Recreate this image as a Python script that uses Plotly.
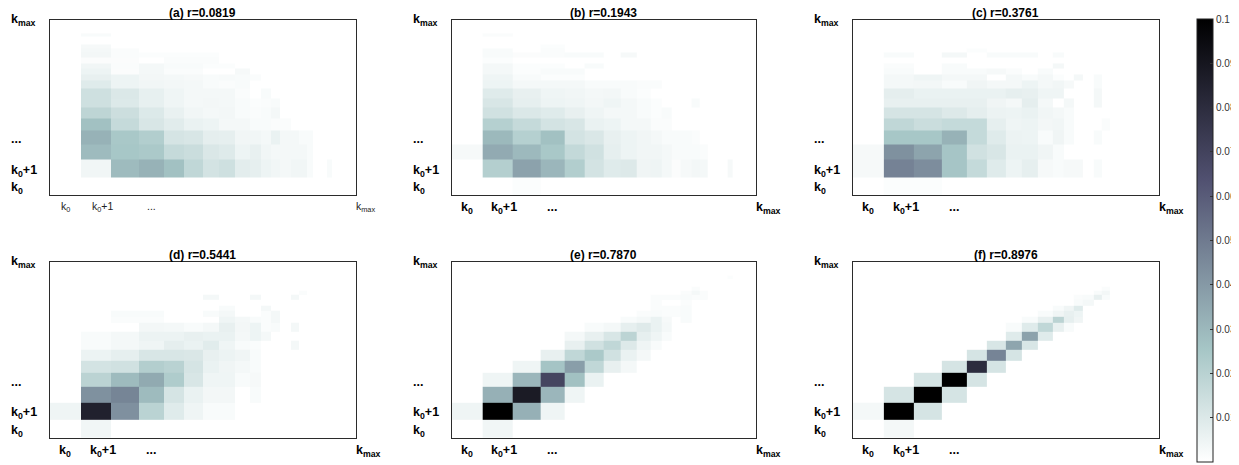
import numpy as np
import plotly.graph_objects as go

# ---------------- data ----------------
k_min, k_max = 1, 1000
# degree bin edges (shared by x and y)
bin_edges = [1, 2, 4, 7.5, 13, 20.5, 31.5, 46, 66, 92, 118, 148, 182, 231, 279, 331, 380, 431, 478, 526, 588]

panel_labels = ["(a)", "(b)", "(c)", "(d)", "(e)", "(f)"]
r_values = ["0.0819", "0.1943", "0.3761", "0.5441", "0.7870", "0.8976"]
tick_labels = ["k<sub>0</sub>", "k<sub>0</sub>+1", "...", "k<sub>max</sub>"]
cbar_ticks = [0, 0.01, 0.02, 0.03, 0.04, 0.05, 0.06, 0.07, 0.08, 0.09, 0.1]

# rows: bottom (k0) -> top ; columns: left (k0) -> right
heat_a = [
    [0, 0, 0, 0, 0, 0, 0, 0, 0, 0, 0, 0, 0, 0, 0, 0, 0, 0, 0, 0],
    [0, .004, .029, .032, .027, .018, .0125, .014, .008, .007, .005, .004, .003, .004, .004, .002, 0, 0, 0, .002],
    [0, .029, .025, .024, .0165, .015, .0105, .0095, .005, .0065, .004, .003, .003, .003, .003, .002, 0, 0, 0, 0],
    [0, .032, .0245, .022, .012, .011, .0075, .007, .004, .004, .003, .006, .003, .003, .002, .002, 0, 0, 0, 0],
    [0, .027, .0165, .011, .0085, .006, .005, .003, .003, .002, .002, .0015, .0015, 0, 0, 0, 0, 0, 0, 0],
    [0, .0185, .0145, .01, .0063, .004, .003, .0035, .002, .0015, .002, .003, 0, 0, 0, 0, 0, 0, 0, 0],
    [0, .014, .01, .0068, .0045, .003, .0035, .003, .002, .001, .0015, .002, 0, 0, 0, 0, 0, 0, 0, 0],
    [0, .014, .0103, .0068, .0045, .003, .003, .003, .0015, 0, .002, 0, 0, 0, 0, 0, 0, 0, 0, 0],
    [0, .009, .005, .004, .0035, .003, .002, .0015, .002, 0, 0, 0, 0, 0, 0, 0, 0, 0, 0, 0],
    [0, .0065, .005, .0035, .003, .0025, .002, .0022, .002, .0015, 0, 0, 0, 0, 0, 0, 0, 0, 0, 0],
    [0, .005, .0012, .003, .0015, .0015, 0, 0, .0025, 0, 0, 0, 0, 0, 0, 0, 0, 0, 0, 0],
    [0, .004, .0015, .003, .002, .002, .001, .001, 0, 0, 0, 0, 0, 0, 0, 0, 0, 0, 0, 0],
    [0, .0012, .0012, 0, .0015, .0015, .0015, 0, 0, 0, 0, 0, 0, 0, 0, 0, 0, 0, 0, 0],
    [0, .0035, .0015, .001, .001, .001, .001, 0, 0, 0, 0, 0, 0, 0, 0, 0, 0, 0, 0, 0],
    [0, .003, .0015, 0, 0, 0, 0, 0, 0, 0, 0, 0, 0, 0, 0, 0, 0, 0, 0, 0],
    [0, .0025, 0, 0, 0, 0, 0, 0, 0, 0, 0, 0, 0, 0, 0, 0, 0, 0, 0, 0],
    [0, 0, 0, 0, 0, 0, 0, 0, 0, 0, 0, 0, 0, 0, 0, 0, 0, 0, 0, 0],
    [0, 0, 0, 0, 0, 0, 0, 0, 0, 0, 0, 0, 0, 0, 0, 0, 0, 0, 0, 0],
    [0, 0, 0, 0, 0, 0, 0, 0, 0, 0, 0, 0, 0, 0, 0, 0, 0, 0, 0, 0],
    [0, .002, 0, 0, 0, 0, 0, 0, 0, 0, 0, 0, 0, 0, 0, 0, 0, 0, 0, 0],
]

heat_b = [
    [0, 0, .001, 0, 0, 0, 0, 0, 0, 0, 0, 0, 0, 0, 0, 0, 0, 0, 0, 0],
    [0, .0215, .037, .0305, .022, .0125, .009, .0097, .0043, .0048, .003, .0012, .0025, .0035, .003, 0, 0, 0, 0, .0025],
    [.0025, .0345, .0295, .0245, .017, .0135, .007, .005, .004, .004, .003, .002, .002, .002, .0015, 0, 0, 0, 0, 0],
    [0, .0297, .021, .027, .0125, .0105, .0065, .005, .004, .003, .002, .002, .002, .0015, 0, 0, 0, 0, 0, 0],
    [0, .021, .0165, .0125, .011, .006, .005, .003, .003, .0015, .0015, 0, 0, 0, 0, 0, 0, 0, 0, 0],
    [0, .0135, .0103, .009, .0065, .0045, .003, .003, .002, .001, .002, 0, 0, 0, 0, 0, 0, 0, 0, 0],
    [0, .011, .007, .005, .0045, .0035, .0045, .003, .002, .001, 0, 0, 0, .002, 0, 0, 0, 0, 0, 0],
    [0, .009, .0065, .0045, .004, .003, .0035, .002, .001, 0, 0, 0, 0, 0, 0, 0, 0, 0, 0, 0],
    [0, .005, .003, .003, .003, .002, .002, .002, .0015, .0015, 0, 0, 0, 0, 0, 0, 0, 0, 0, 0],
    [0, .0045, .002, .001, .001, 0, 0, 0, 0, 0, 0, 0, 0, 0, 0, 0, 0, 0, 0, 0],
    [0, .003, .001, .002, .002, 0, 0, 0, 0, 0, 0, 0, 0, 0, 0, 0, 0, 0, 0, 0],
    [0, .003, .001, .001, 0, .002, 0, 0, 0, 0, 0, 0, 0, 0, 0, 0, 0, 0, 0, 0],
    [0, .001, 0, 0, 0, 0, 0, 0, 0, 0, 0, 0, 0, 0, 0, 0, 0, 0, 0, 0],
    [0, .002, .0012, .0015, .002, .002, 0, .0025, 0, 0, 0, 0, 0, 0, 0, 0, 0, 0, 0, 0],
    [0, .002, 0, .0015, 0, 0, 0, 0, 0, 0, 0, 0, 0, 0, 0, 0, 0, 0, 0, 0],
    [0, 0, 0, .001, 0, 0, 0, 0, 0, 0, 0, 0, 0, 0, 0, 0, 0, 0, 0, 0],
    [0, 0, 0, 0, 0, 0, 0, 0, 0, 0, 0, 0, 0, 0, 0, 0, 0, 0, 0, 0],
    [0, 0, 0, 0, 0, 0, 0, 0, 0, 0, 0, 0, 0, 0, 0, 0, 0, 0, 0, 0],
    [0, 0, 0, 0, 0, 0, 0, 0, 0, 0, 0, 0, 0, 0, 0, 0, 0, 0, 0, 0],
    [0, .0015, 0, 0, 0, 0, 0, 0, 0, 0, 0, 0, 0, 0, 0, 0, 0, 0, 0, 0],
]

heat_c = [
    [0, .001, .001, 0, 0, 0, 0, 0, 0, 0, 0, 0, 0, 0, 0, 0, 0, 0, 0, 0],
    [.0025, .0475, .044, .0256, .0167, .009, .005, .007, .0025, .002, .0025, .0025, 0, .002, 0, 0, 0, 0, 0, 0],
    [.0025, .0428, .0366, .0256, .0135, .011, .006, .006, .0043, .002, 0, 0, 0, 0, 0, 0, 0, 0, 0, 0],
    [0, .025, .025, .032, .0167, .009, .0055, .005, .002, .0043, .002, 0, 0, .002, 0, 0, 0, 0, 0, 0],
    [0, .018, .015, .0167, .0167, .007, .0045, .005, .0035, .004, .002, 0, 0, 0, .0015, 0, 0, 0, 0, 0],
    [0, .012, .012, .0098, .0075, .0055, .005, .006, .004, .003, .002, 0, 0, 0, 0, 0, 0, 0, 0, 0],
    [0, .0065, .0065, .0065, .0065, .0043, .003, .0075, .003, 0, .003, 0, 0, .003, 0, 0, 0, 0, 0, 0],
    [0, .0075, .006, .006, .006, .006, .007, .0065, .0045, .0045, 0, 0, 0, .003, 0, 0, 0, 0, 0, 0],
    [0, .003, .0035, .002, .0043, .003, .003, .005, .003, .004, .0025, 0, 0, .002, 0, 0, 0, 0, 0, 0],
    [0, .003, .0045, .003, .003, 0, .003, .002, .003, .001, 0, .003, 0, .002, 0, 0, 0, 0, 0, 0],
    [0, .002, 0, .002, .002, .0025, .0015, 0, .002, 0, 0, 0, 0, 0, 0, 0, 0, 0, 0, 0],
    [0, .0015, 0, .002, 0, 0, 0, 0, 0, .003, 0, 0, 0, 0, 0, 0, 0, 0, 0, 0],
    [0, 0, 0, 0, 0, 0, 0, 0, 0, 0, 0, 0, 0, 0, 0, 0, 0, 0, 0, 0],
    [0, .002, 0, .003, 0, .002, .002, .002, 0, .002, 0, 0, 0, 0, 0, 0, 0, 0, 0, 0],
    [0, 0, 0, 0, .001, 0, 0, 0, 0, 0, 0, 0, 0, 0, 0, 0, 0, 0, 0, 0],
    [0, 0, 0, 0, 0, 0, 0, 0, 0, 0, 0, 0, 0, 0, 0, 0, 0, 0, 0, 0],
    [0, 0, 0, 0, 0, 0, 0, 0, 0, 0, 0, 0, 0, 0, 0, 0, 0, 0, 0, 0],
    [0, 0, 0, 0, 0, 0, 0, 0, 0, 0, 0, 0, 0, 0, 0, 0, 0, 0, 0, 0],
    [0, 0, 0, 0, 0, 0, 0, 0, 0, 0, 0, 0, 0, 0, 0, 0, 0, 0, 0, 0],
    [0, 0, 0, 0, 0, 0, 0, 0, 0, 0, 0, 0, 0, 0, 0, 0, 0, 0, 0, 0],
]

heat_d = [
    [0, .004, 0, 0, 0, 0, 0, 0, 0, 0, 0, 0, 0, 0, 0, 0, 0, 0, 0, 0],
    [.0045, .085, .043, .0198, .009, .0045, .002, .002, 0, 0, 0, 0, 0, 0, 0, 0, 0, 0, 0, 0],
    [0, .0428, .0467, .029, .012, .006, .0035, .0035, 0, .002, 0, 0, 0, 0, 0, 0, 0, 0, 0, 0],
    [0, .0195, .029, .0346, .0227, .011, .0045, .0045, .002, .0025, 0, 0, 0, 0, 0, 0, 0, 0, 0, 0],
    [0, .0125, .0135, .0218, .020, .012, .006, .0043, .003, .002, 0, 0, 0, 0, 0, 0, 0, 0, 0, 0],
    [0, .0055, .0072, .011, .011, .0105, .0065, .0055, .0043, .002, 0, 0, 0, 0, 0, 0, 0, 0, 0, 0],
    [0, .002, .003, .0045, .0075, .006, .0085, .0045, .002, .0015, 0, 0, 0, .003, 0, 0, 0, 0, 0, 0],
    [0, .002, .003, .0055, .0055, .0065, .006, .006, .003, .005, .003, 0, 0, 0, 0, 0, 0, 0, 0, 0],
    [0, 0, 0, .0035, .003, .002, .003, .0065, .0035, .005, .0015, .002, 0, .003, 0, 0, 0, 0, 0, 0],
    [0, 0, .0015, .0015, 0, 0, 0, .0045, .003, .002, .0015, .003, 0, 0, 0, 0, 0, 0, 0, 0],
    [0, 0, .002, .002, 0, 0, .002, .003, 0, 0, .0015, .003, 0, 0, 0, 0, 0, 0, 0, 0],
    [0, 0, 0, 0, 0, 0, 0, .002, 0, 0, .003, 0, 0, 0, 0, 0, 0, 0, 0, 0],
    [0, 0, 0, 0, 0, 0, 0, 0, 0, 0, 0, 0, 0, 0, 0, 0, 0, 0, 0, 0],
    [0, 0, 0, 0, 0, 0, .003, 0, 0, .003, 0, 0, 0, .003, 0, 0, 0, 0, 0, 0],
    [0, 0, 0, 0, 0, 0, 0, 0, 0, 0, 0, 0, 0, 0, .0015, 0, 0, 0, 0, 0],
    [0, 0, 0, 0, 0, 0, 0, 0, 0, 0, 0, 0, 0, 0, 0, 0, 0, 0, 0, 0],
    [0, 0, 0, 0, 0, 0, 0, 0, 0, 0, 0, 0, 0, 0, 0, 0, 0, 0, 0, 0],
    [0, 0, 0, 0, 0, 0, 0, 0, 0, 0, 0, 0, 0, 0, 0, 0, 0, 0, 0, 0],
    [0, 0, 0, 0, 0, 0, 0, 0, 0, 0, 0, 0, 0, 0, 0, 0, 0, 0, 0, 0],
    [0, 0, 0, 0, 0, 0, 0, 0, 0, 0, 0, 0, 0, 0, 0, 0, 0, 0, 0, 0],
]

heat_e = [
    [0, .004, 0, 0, 0, 0, 0, 0, 0, 0, 0, 0, 0, 0, 0, 0, 0, 0, 0, 0],
    [.0045, .1, .0327, .0045, 0, 0, 0, 0, 0, 0, 0, 0, 0, 0, 0, 0, 0, 0, 0, 0],
    [0, .0327, .088, .0305, .0045, 0, 0, 0, 0, 0, 0, 0, 0, 0, 0, 0, 0, 0, 0, 0],
    [0, .0045, .0305, .069, .027, .006, 0, 0, 0, 0, 0, 0, 0, 0, 0, 0, 0, 0, 0, 0],
    [0, 0, .0045, .026, .0385, .018, .0065, .003, 0, 0, 0, 0, 0, 0, 0, 0, 0, 0, 0, 0],
    [0, 0, 0, .0065, .018, .024, .0135, .006, .003, 0, 0, 0, 0, 0, 0, 0, 0, 0, 0, 0],
    [0, 0, 0, 0, .0065, .0135, .018, .0098, .0045, .002, 0, 0, 0, 0, 0, 0, 0, 0, 0, 0],
    [0, 0, 0, 0, .003, .0065, .0112, .019, .007, .0045, .002, 0, 0, 0, 0, 0, 0, 0, 0, 0],
    [0, 0, 0, 0, 0, .002, .003, .0072, .0092, .006, .003, 0, 0, 0, 0, 0, 0, 0, 0, 0],
    [0, 0, 0, 0, 0, 0, 0, .002, .003, .006, .0025, 0, .002, 0, 0, 0, 0, 0, 0, 0],
    [0, 0, 0, 0, 0, 0, 0, 0, .0015, .002, .0015, .0015, .002, 0, 0, 0, 0, 0, 0, 0],
    [0, 0, 0, 0, 0, 0, 0, 0, 0, .0015, .0015, .0015, .002, 0, 0, 0, 0, 0, 0, 0],
    [0, 0, 0, 0, 0, 0, 0, 0, 0, .0015, 0, 0, .0015, 0, 0, 0, 0, 0, 0, 0],
    [0, 0, 0, 0, 0, 0, 0, 0, 0, .0015, .0015, .0015, .002, .0015, .0015, 0, 0, 0, 0, 0],
    [0, 0, 0, 0, 0, 0, 0, 0, 0, 0, 0, 0, .0015, .003, .0015, 0, 0, 0, 0, 0],
    [0, 0, 0, 0, 0, 0, 0, 0, 0, 0, 0, 0, 0, .0015, 0, 0, 0, 0, 0, 0],
    [0, 0, 0, 0, 0, 0, 0, 0, 0, 0, 0, 0, 0, 0, 0, 0, 0, 0, 0, 0],
    [0, 0, 0, 0, 0, 0, 0, 0, 0, 0, 0, 0, 0, 0, 0, 0, 0, 0, 0, 0],
    [0, 0, 0, 0, 0, 0, 0, 0, 0, 0, 0, 0, 0, 0, 0, 0, 0, 0, 0, 0],
    [0, 0, 0, 0, 0, 0, 0, 0, 0, 0, 0, 0, 0, 0, 0, 0, 0, 0, 0, .001],
]

heat_f = [
    [0, .003, 0, 0, 0, 0, 0, 0, 0, 0, 0, 0, 0, 0, 0, 0, 0, 0, 0, 0],
    [.003, .1, .012, 0, 0, 0, 0, 0, 0, 0, 0, 0, 0, 0, 0, 0, 0, 0, 0, 0],
    [0, .012, .1, .012, 0, 0, 0, 0, 0, 0, 0, 0, 0, 0, 0, 0, 0, 0, 0, 0],
    [0, 0, .012, .1, .012, 0, 0, 0, 0, 0, 0, 0, 0, 0, 0, 0, 0, 0, 0, 0],
    [0, 0, 0, .012, .08, .012, 0, 0, 0, 0, 0, 0, 0, 0, 0, 0, 0, 0, 0, 0],
    [0, 0, 0, 0, .012, .047, .012, 0, 0, 0, 0, 0, 0, 0, 0, 0, 0, 0, 0, 0],
    [0, 0, 0, 0, 0, .011, .036, .011, 0, 0, 0, 0, 0, 0, 0, 0, 0, 0, 0, 0],
    [0, 0, 0, 0, 0, 0, .009, .037, .009, 0, 0, 0, 0, 0, 0, 0, 0, 0, 0, 0],
    [0, 0, 0, 0, 0, 0, .002, .009, .018, .0065, .002, 0, 0, 0, 0, 0, 0, 0, 0, 0],
    [0, 0, 0, 0, 0, 0, 0, .002, .0065, .0195, .007, .0043, 0, 0, 0, 0, 0, 0, 0, 0],
    [0, 0, 0, 0, 0, 0, 0, 0, .002, .0043, .0065, .005, 0, 0, 0, 0, 0, 0, 0, 0],
    [0, 0, 0, 0, 0, 0, 0, 0, 0, .002, .0043, .009, 0, 0, 0, 0, 0, 0, 0, 0],
    [0, 0, 0, 0, 0, 0, 0, 0, 0, 0, 0, .002, .003, 0, 0, 0, 0, 0, 0, 0],
    [0, 0, 0, 0, 0, 0, 0, 0, 0, 0, 0, .0015, .002, .0065, .002, 0, 0, 0, 0, 0],
    [0, 0, 0, 0, 0, 0, 0, 0, 0, 0, 0, 0, 0, .002, .0035, 0, 0, 0, 0, 0],
    [0, 0, 0, 0, 0, 0, 0, 0, 0, 0, 0, 0, 0, 0, .0015, 0, 0, 0, 0, 0],
    [0, 0, 0, 0, 0, 0, 0, 0, 0, 0, 0, 0, 0, 0, 0, 0, 0, 0, 0, 0],
    [0, 0, 0, 0, 0, 0, 0, 0, 0, 0, 0, 0, 0, 0, 0, 0, 0, 0, 0, 0],
    [0, 0, 0, 0, 0, 0, 0, 0, 0, 0, 0, 0, 0, 0, 0, 0, 0, 0, 0, 0],
    [0, 0, 0, 0, 0, 0, 0, 0, 0, 0, 0, 0, 0, 0, 0, 0, 0, 0, 0, 0],
]

panels = [heat_a, heat_b, heat_c, heat_d, heat_e, heat_f]

# ---------------- style ----------------
OFF = 8                    # page body margin of the html page
W, H = 1239 - OFF, 465 - OFF
FONT = "Liberation Sans, Arial, Helvetica, sans-serif"
# panel boxes in window pixels: (left, right) and (top, bottom)
col_px = [(50, 356), (452, 756.5), (853.5, 1159.5)]
row_px = [(20, 195), (262.3, 437.7)]


def fx(px):
    return (px - OFF) / W


def fy(py):
    return 1 - (py - OFF) / H


# reversed "bone" colormap
bone_r = [[0.0, "rgb(255,255,255)"], [0.254, "rgb(166,198,198)"],
          [0.635, "rgb(81,81,113)"], [1.0, "rgb(0,0,0)"]]

fig = go.Figure()
edges = np.array(bin_edges, dtype=float)
centers = np.sqrt(edges[:-1] * edges[1:])
tick_pos = [centers[0], centers[1], centers[3], k_max]

for i, z in enumerate(panels):
    n = i + 1
    xa = "x" if n == 1 else f"x{n}"
    ya = "y" if n == 1 else f"y{n}"
    fig.add_trace(go.Heatmap(x=bin_edges, y=bin_edges, z=z, coloraxis="coloraxis",
                             xaxis=xa, yaxis=ya, hoverongaps=False))
    c, r = i % 3, i // 3
    L, R = col_px[c]
    T, B = row_px[r]
    axcommon = dict(type="log", showgrid=False, zeroline=False, showticklabels=False,
                    ticks="", showline=True, mirror=True, linecolor="#2b2b2b", linewidth=1.3)
    fig.layout[f"xaxis{n if n > 1 else ''}"] = dict(
        domain=[fx(L), fx(R)], range=[np.log10(k_min), np.log10(k_max)],
        anchor=ya, **axcommon)
    fig.layout[f"yaxis{n if n > 1 else ''}"] = dict(
        domain=[fy(B), fy(T)], range=[np.log10(k_min), np.log10(k_max)],
        anchor=xa, **axcommon)

    # title
    fig.add_annotation(text=f"<b>{panel_labels[i]} r={r_values[i]}</b>",
                       xref=f"{xa} domain", yref=f"{ya} domain", x=0.5, y=1,
                       xanchor="center", yanchor="middle", yshift=7, borderpad=0,
                       showarrow=False, font=dict(family=FONT, size=12, color="black"))

    # x tick labels
    small = (n == 1)
    for j, (lab, pos) in enumerate(zip(tick_labels, tick_pos)):
        if small:
            txt = lab
            fnt = dict(family=FONT, size=10.5, color="#222")
        else:
            txt = f"<b>{lab}</b>"
            fnt = dict(family=FONT, size=12.5, color="black")
        xanchor = "left" if j == 3 else "center"
        xshift = {1: 7, 3: -2}.get(j, 0)
        fig.add_annotation(text=txt, xref=xa, yref=f"{ya} domain", x=np.log10(pos), y=0,
                           xanchor=xanchor, yanchor="top", xshift=xshift,
                           yshift=-3, showarrow=False, font=fnt)
    # y tick labels (left aligned)
    for j, (lab, pos) in enumerate(zip(tick_labels, tick_pos)):
        fig.add_annotation(text=f"<b>{lab}</b>", xref=f"{xa} domain", yref=ya,
                           x=0, y=np.log10(pos), xanchor="left", yanchor="middle",
                           xshift=-41, yshift=(0 if j == 3 else -2), showarrow=False,
                           font=dict(family=FONT, size=12.5, color="black"))

fig.update_layout(
    width=W, height=H,
    margin=dict(l=0, r=0, t=0, b=0),
    paper_bgcolor="white", plot_bgcolor="white",
    showlegend=False,
    font=dict(family=FONT),
    coloraxis=dict(
        colorscale=bone_r, cmin=0, cmax=0.1,
        colorbar=dict(
            x=fx(1197), xanchor="left", y=fy(240.5), yanchor="middle",
            thickness=16, len=443, lenmode="pixels", xpad=0, ypad=0,
            outlinewidth=1, outlinecolor="#222",
            tickvals=cbar_ticks, ticks="inside", ticklen=3, tickcolor="#333",
            tickfont=dict(family=FONT, size=10, color="#333"),
        ),
    ),
)

fig.write_html("out.html")
